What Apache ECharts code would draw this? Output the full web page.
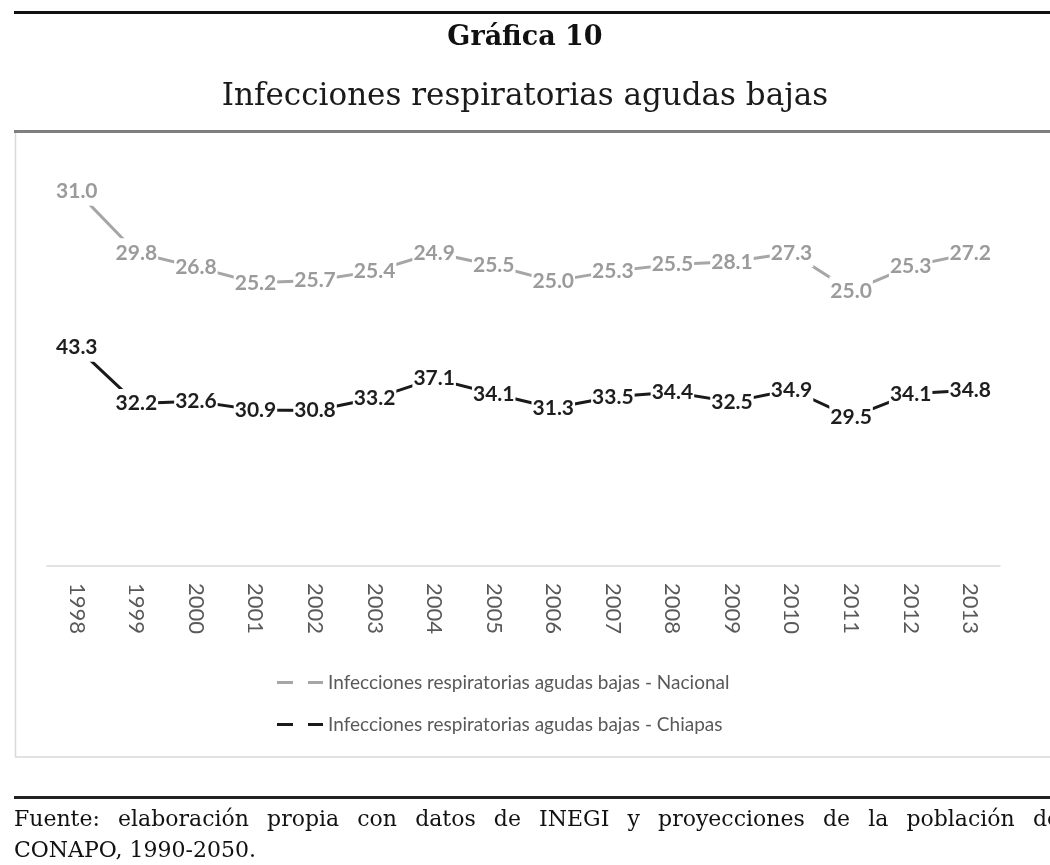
<!DOCTYPE html>
<html>
<head>
<meta charset="utf-8">
<script src="https://cdn.jsdelivr.net/npm/echarts@6/dist/echarts.min.js"></script>
<style>
  html, body { margin: 0; padding: 0; background: #ffffff; }
  #chart { width: 1050px; height: 865px; }
</style>
</head>
<body>
<div id="chart"></div>
<script>
// ---- data ----
var years = ['1998','1999','2000','2001','2002','2003','2004','2005','2006','2007','2008','2009','2010','2011','2012','2013'];
// printed data labels
var nacionalLabels = [31.0, 29.8, 26.8, 25.2, 25.7, 25.4, 24.9, 25.5, 25.0, 25.3, 25.5, 28.1, 27.3, 25.0, 25.3, 27.2];
// plotted level of the Nacional line (hidden secondary axis)
var nacionalLevels = [31.0, 27.3, 26.44, 25.5, 25.64, 26.2, 27.3, 26.54, 25.6, 26.2, 26.6, 26.76, 27.3, 25.0, 26.5, 27.26];
var chiapasValues = [43.3, 32.2, 32.6, 30.9, 30.8, 33.2, 37.1, 34.1, 31.3, 33.5, 34.4, 32.5, 34.9, 29.5, 34.1, 34.8];
var seriesNames = ['Infecciones respiratorias agudas bajas - Nacional', 'Infecciones respiratorias agudas bajas - Chiapas'];
var titleText = 'Gráfica 10';
var subtitleText = 'Infecciones respiratorias agudas bajas';
var sourceLine1 = 'Fuente: elaboración propia con datos de  INEGI y proyecciones de la población de';
var sourceLine2 = 'CONAPO, 1990-2050.';

var chart = echarts.init(document.getElementById('chart'), null, { renderer: 'canvas' });

var labelFont = 'Lato, "Open Sans", sans-serif';
var serif = '"DejaVu Serif", serif';

// justified first source line (word by word)
function justifiedWords(text, left, right, y, size) {
  var ctx = document.createElement('canvas').getContext('2d');
  ctx.font = size + 'px "DejaVu Serif"';
  var words = text.split(/\s+/);
  var widths = words.map(function (w) { return ctx.measureText(w).width; });
  var total = widths.reduce(function (a, b) { return a + b; }, 0);
  var gap = (right - left - total) / (words.length - 1);
  var x = left;
  var out = [];
  words.forEach(function (w, i) {
    out.push({ type: 'text', x: x, y: y, silent: true,
      style: { text: w, align: 'left', verticalAlign: 'middle', fontFamily: serif, fontSize: size, fill: '#111111' } });
    x += widths[i] + gap;
  });
  return out;
}

var graphics = [
  { type: 'rect', shape: { x: 14, y: 11, width: 1036, height: 3 }, style: { fill: '#111111' }, silent: true },
  { type: 'text', x: 525, y: 38, style: { text: titleText, align: 'center', verticalAlign: 'middle', fontFamily: serif, fontSize: 27, fontWeight: 'bold', fill: '#111111' }, silent: true },
  { type: 'text', x: 525, y: 97, style: { text: subtitleText, align: 'center', verticalAlign: 'middle', fontFamily: serif, fontSize: 31, fill: '#1a1a1a' }, silent: true },
  { type: 'rect', shape: { x: 14, y: 130, width: 1036, height: 3 }, style: { fill: '#7f7f7f' }, silent: true },
  { type: 'line', shape: { x1: 15.5, y1: 133, x2: 15.5, y2: 757 }, style: { stroke: '#d9d9d9', lineWidth: 1.5 }, silent: true },
  { type: 'line', shape: { x1: 15, y1: 757, x2: 1050, y2: 757 }, style: { stroke: '#d9d9d9', lineWidth: 1.5 }, silent: true },
  { type: 'rect', shape: { x: 14, y: 796, width: 1036, height: 3 }, style: { fill: '#222222' }, silent: true },
  { type: 'text', x: 14, y: 851, style: { text: sourceLine2, align: 'left', verticalAlign: 'middle', fontFamily: serif, fontSize: 22, fill: '#111111' }, silent: true }
].concat(justifiedWords(sourceLine1, 14, 1060, 820, 22));

var option = {
  backgroundColor: '#ffffff',
  animation: false,
  grid: { left: 47, right: 50, top: 162, bottom: 299, containLabel: false },
  legend: {
    orient: 'vertical',
    left: 272,
    top: 668,
    itemWidth: 46,
    itemHeight: 3,
    itemGap: 23,
    icon: 'path://M0,0h16v3h-16zM31,0h15v3h-15z',
    textStyle: { fontFamily: labelFont, fontSize: 19, color: '#595959' },
    data: [
      { name: seriesNames[0], itemStyle: { color: '#a6a6a6' } },
      { name: seriesNames[1], itemStyle: { color: '#1a1a1a' } }
    ],
    selectedMode: false
  },
  xAxis: {
    type: 'category',
    data: years,
    boundaryGap: true,
    axisLine: { show: true, lineStyle: { color: '#d9d9d9', width: 1.5 } },
    axisTick: { show: false },
    splitLine: { show: false },
    axisLabel: {
      rotate: -90,
      margin: 17,
      interval: 0,
      fontFamily: labelFont,
      fontSize: 22,
      color: '#595959'
    }
  },
  yAxis: [
    { type: 'value', min: 0, max: 80, show: false, splitLine: { show: false } },
    { type: 'value', min: 8.5, max: 32.75, show: false, splitLine: { show: false } }
  ],
  series: [
    {
      name: seriesNames[0],
      type: 'line',
      yAxisIndex: 1,
      data: nacionalLevels.map(function (v, i) { return { value: v, label: { formatter: nacionalLabels[i].toFixed(1) } }; }),
      symbol: 'circle',
      symbolSize: 1,
      showSymbol: true,
      lineStyle: { color: '#a6a6a6', width: 3 },
      itemStyle: { color: '#a6a6a6' },
      label: {
        show: true,
        position: 'inside',
        fontFamily: labelFont,
        fontSize: 21,
        fontWeight: 'bold',
        color: '#9b9b9b',
        backgroundColor: '#ffffff',
        padding: [4, 1]
      },
      z: 2
    },
    {
      name: seriesNames[1],
      type: 'line',
      yAxisIndex: 0,
      data: chiapasValues,
      symbol: 'circle',
      symbolSize: 1,
      showSymbol: true,
      lineStyle: { color: '#1a1a1a', width: 3 },
      itemStyle: { color: '#1a1a1a' },
      label: {
        show: true,
        position: 'inside',
        formatter: function (p) { return p.value.toFixed(1); },
        fontFamily: labelFont,
        fontSize: 21,
        fontWeight: 'bold',
        color: '#1e1e1e',
        backgroundColor: '#ffffff',
        padding: [4, 1]
      },
      z: 3
    }
  ],
  graphic: graphics
};

chart.setOption(option);
</script>
</body>
</html>
